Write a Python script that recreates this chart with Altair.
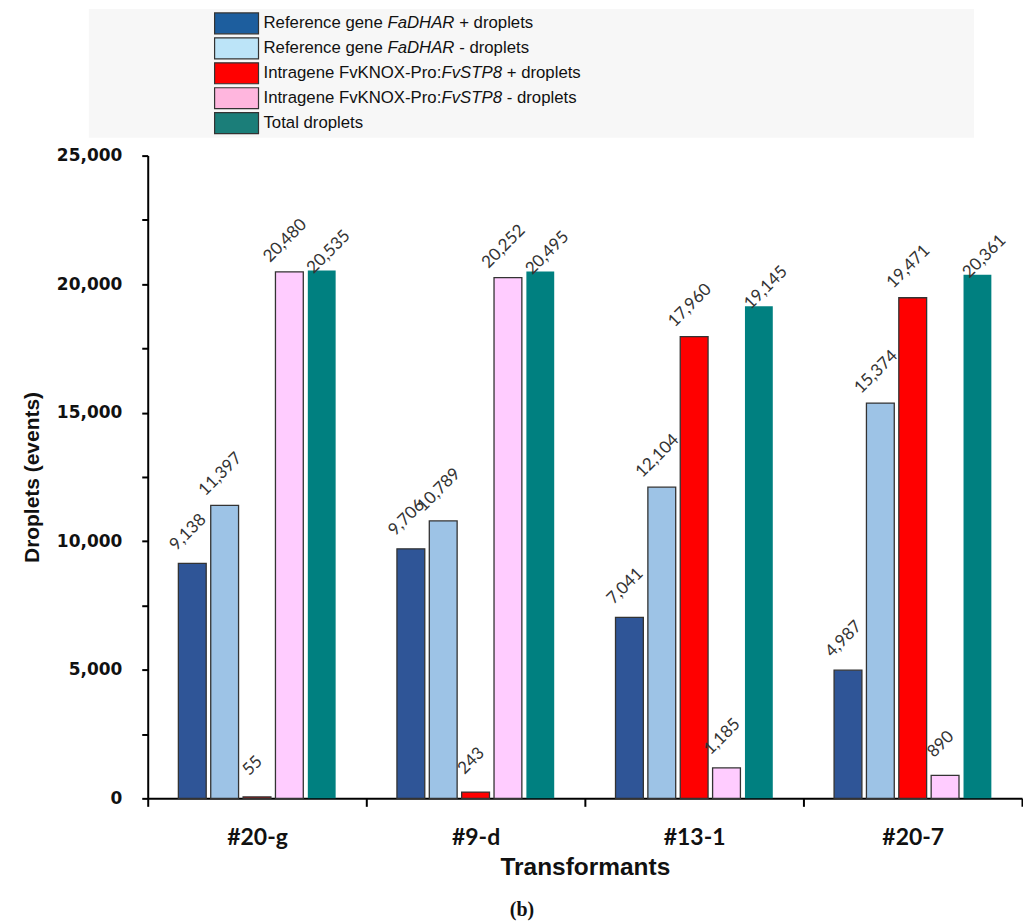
import altair as alt
import pandas as pd

# ---------------- data ----------------
categories = ["#20-g", "#9-d", "#13-1", "#20-7"]
series_keys = ["ref_pos", "ref_neg", "intra_pos", "intra_neg", "total"]
ref_pos = [9138, 9706, 7041, 4987]
ref_neg = [11397, 10789, 12104, 15374]
intra_pos = [55, 243, 17960, 19471]
intra_neg = [20480, 20252, 1185, 890]
total = [20535, 20495, 19145, 20361]
y_ticks = [0, 2500, 5000, 7500, 10000, 12500, 15000, 17500, 20000, 22500, 25000]

bar_colors = ["#2F5597", "#9DC3E6", "#FF0000", "#FFCCFF", "#008080"]
legend_colors = ["#1D5E9E", "#BCE4F8", "#FF0000", "#FFB6DE", "#1B7E79"]

legend_parts = [
    [("Reference gene ", False), ("FaDHAR", True), (" + droplets", False)],
    [("Reference gene ", False), ("FaDHAR", True), (" - droplets", False)],
    [("Intragene FvKNOX-Pro:", False), ("FvSTP8", True), (" + droplets", False)],
    [("Intragene FvKNOX-Pro:", False), ("FvSTP8", True), (" - droplets", False)],
    [("Total droplets", False)],
]

rows = []
for key, vals in zip(series_keys, [ref_pos, ref_neg, intra_pos, intra_neg, total]):
    for c, v in zip(categories, vals):
        rows.append({"cat": c, "series": key, "value": v})
df = pd.DataFrame(rows)

PLOT_W = 876
PLOT_H = 644

# ---------------- legend (mixed italic text) ----------------
LEG_FONT = 16.8
ARIAL_W = {
    " ": 278, "+": 584, "-": 333, ":": 278, "A": 667, "D": 722, "F": 611, "H": 722,
    "I": 278, "K": 667, "N": 722, "O": 778, "P": 667, "R": 722, "S": 667, "T": 611,
    "V": 667, "X": 667, "a": 556, "c": 500, "d": 556, "e": 556, "f": 278, "g": 556,
    "l": 222, "n": 556, "o": 556, "p": 556, "r": 333, "s": 500, "t": 278, "v": 500,
    "8": 556, "i": 222,
}


def text_w(s):
    return sum(ARIAL_W.get(ch, 556) for ch in s) * LEG_FONT / 1000.0


TEXT_X0 = 116
seg_rows = []
for key, parts in zip(series_keys, legend_parts):
    x = TEXT_X0
    for txt, ital in parts:
        lead = len(txt) - len(txt.lstrip(" "))
        seg_rows.append({"series": key, "px": x + text_w(" " * lead),
                         "txt": txt.strip(" "), "italic": ital})
        x += text_w(txt)
seg_df = pd.DataFrame(seg_rows)

leg_y = alt.Scale(domain=series_keys, range=[2, 127], paddingInner=0.16, paddingOuter=0.08)

legend_bg = alt.Chart(pd.DataFrame({"a": [0]})).mark_rect(fill="#F7F7F7").encode(
    x=alt.value(-59), x2=alt.value(828), y=alt.value(0), y2=alt.value(129)
)
legend_sw = alt.Chart(pd.DataFrame({"series": series_keys})).mark_rect(
    stroke="#333333", strokeWidth=1.2
).encode(
    y=alt.Y("series:N", scale=leg_y, axis=None),
    x=alt.value(67), x2=alt.value(111),
    fill=alt.Fill("series:N", scale=alt.Scale(domain=series_keys, range=legend_colors), legend=None),
)
legend_txt_n = alt.Chart(seg_df).transform_filter("!datum.italic").mark_text(
    align="left", baseline="middle", font="Liberation Sans", fontSize=LEG_FONT, color="#111111"
).encode(
    y=alt.Y("series:N", scale=leg_y, axis=None),
    x=alt.X("px:Q", scale=None),
    text="txt:N",
)
legend_txt_i = alt.Chart(seg_df).transform_filter("datum.italic").mark_text(
    align="left", baseline="middle", font="Liberation Sans", fontSize=LEG_FONT,
    fontStyle="italic", color="#111111"
).encode(
    y=alt.Y("series:N", scale=leg_y, axis=None),
    x=alt.X("px:Q", scale=None),
    text="txt:N",
)
legend = alt.layer(legend_bg, legend_sw, legend_txt_n, legend_txt_i).resolve_scale(
    fill="independent"
).properties(width=PLOT_W, height=129)

# ---------------- main chart ----------------
x_enc = alt.X(
    "cat:N", sort=categories,
    scale=alt.Scale(paddingInner=0, paddingOuter=0),
    axis=alt.Axis(
        tickBand="extent", labelAngle=0, labelFont="Lato", labelFontWeight="bold",
        labelFontSize=23, labelColor="#111111", labelPadding=20, tickSize=8, tickWidth=2,
        tickColor="black", domainColor="black", domainWidth=2,
        title="Transformants", titleFont="Liberation Sans", titleFontSize=24.5,
        titleFontWeight="bold", titleColor="#111111", titlePadding=6,
    ),
)
xo_enc = alt.XOffset("series:N", sort=series_keys,
                     scale=alt.Scale(paddingInner=0.14, paddingOuter=0.947))
y_enc = alt.Y(
    "value:Q",
    scale=alt.Scale(domain=[0, 25000], nice=False),
    axis=alt.Axis(
        values=y_ticks, grid=False,
        labelExpr="datum.value % 5000 === 0 ? format(datum.value, ',') : ''",
        labelFont="DejaVu Sans", labelFontWeight="bold", labelFontSize=17,
        labelColor="#111111", labelPadding=20, tickSize=6, tickWidth=2, tickColor="black",
        domainColor="black", domainWidth=2,
        title="Droplets (events)", titleFont="Liberation Sans", titleFontSize=21,
        titleFontWeight="bold", titleColor="#111111", titlePadding=14,
    ),
)

base = alt.Chart(df)
bars = base.mark_bar(strokeWidth=1.3).encode(
    x=x_enc, xOffset=xo_enc, y=y_enc,
    fill=alt.Fill("series:N", scale=alt.Scale(domain=series_keys, range=bar_colors), legend=None),
    stroke=alt.condition("datum.series === 'total'", alt.value("transparent"), alt.value("#333333")),
)
labels_main = base.transform_filter("datum.series !== 'total'").mark_text(
    angle=315, align="center", baseline="middle", dx=19, dy=-25,
    font="Lato", fontSize=17, color="#333333",
).encode(x=x_enc, xOffset=xo_enc, y=y_enc, text=alt.Text("value:Q", format=","))
labels_total = base.transform_filter("datum.series === 'total'").mark_text(
    angle=315, align="center", baseline="middle", dx=18, dy=-8,
    font="Lato", fontSize=17, color="#333333",
).encode(x=x_enc, xOffset=xo_enc, y=y_enc, text=alt.Text("value:Q", format=","))

main = alt.layer(bars, labels_main, labels_total).properties(width=PLOT_W, height=PLOT_H)

chart = alt.vconcat(legend, main, spacing=9).properties(
    padding={"left": 13, "top": 0, "right": 0, "bottom": 0},
    title=alt.TitleParams(
        "(b)", orient="bottom", anchor="middle", frame="group", dx=-63, offset=21,
        font="Liberation Serif", fontSize=20, fontWeight="bold", color="#111111",
    ),
).configure_view(stroke=None)

chart.save("out.html", embed_options={"renderer": "svg", "actions": False})
